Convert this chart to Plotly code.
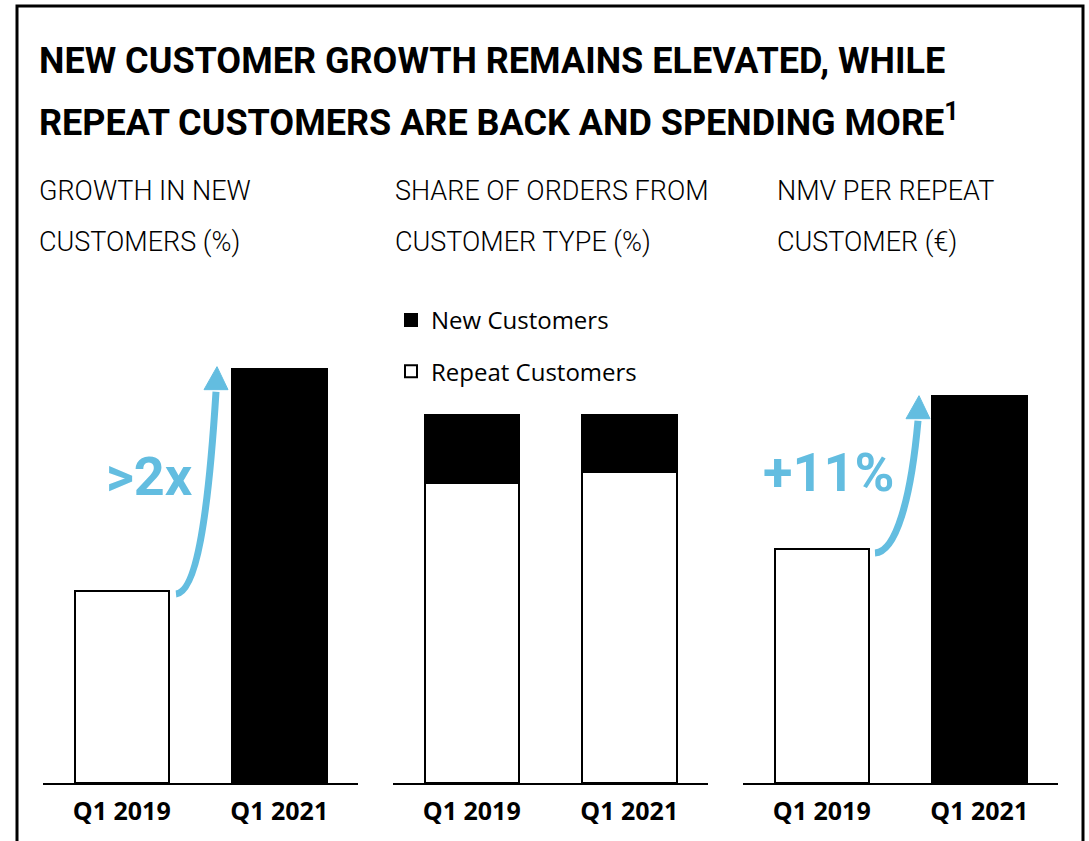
import plotly.graph_objects as go

# ---- data ----
quarters = ["Q1 2019", "Q1 2021"]
new_customer_growth = [19, 41]          # growth in new customers (%)
share_repeat = [81.5, 84.5]             # share of orders from repeat customers (%)
share_new = [18.5, 15.5]                # share of orders from new customers (%)
nmv_per_repeat = [100, 111]             # NMV per repeat customer (€)

title_lines = ["NEW CUSTOMER GROWTH REMAINS ELEVATED, WHILE",
               "REPEAT CUSTOMERS ARE BACK AND SPENDING MORE<sup>1</sup>"]
panel_titles = [["GROWTH IN NEW", "CUSTOMERS (%)"],
                ["SHARE OF ORDERS FROM", "CUSTOMER TYPE (%)"],
                ["NMV PER REPEAT", "CUSTOMER (€)"]]
callouts = [">2x", "+11%"]

# ---- layout constants ----
W, H = 1089, 841
BLUE = "#63BDE0"
COND = "Roboto, Liberation Sans, sans-serif"
GEO = "Open Sans, Lato, sans-serif"
panel_px = [(43, 358), (393, 708), (743, 1058)]
plot_top, plot_bottom = 333, 783
x_range = [-0.5, 1.5]
y_ranges = [[0, 44.53], [0, 122.3], [83.2, 115.5]]
bar_w = 0.6
xpos = list(range(len(quarters)))

fig = go.Figure()

# growth in new customers
fig.add_trace(go.Bar(x=xpos, y=new_customer_growth, width=bar_w,
                     marker=dict(color=["white", "black"], line=dict(color="black", width=2)),
                     showlegend=False, xaxis="x", yaxis="y", hoverinfo="x+y"))
# share of orders, stacked
fig.add_trace(go.Bar(x=xpos, y=share_repeat, width=bar_w, name="Repeat Customers",
                     legendgroup="repeat", legendrank=2,
                     marker=dict(color="white", line=dict(color="black", width=2)),
                     xaxis="x2", yaxis="y2"))
fig.add_trace(go.Bar(x=xpos, y=share_new, width=bar_w, name="New Customers",
                     legendgroup="new", legendrank=1,
                     marker=dict(color="black", line=dict(color="black", width=2)),
                     xaxis="x2", yaxis="y2"))
# NMV per repeat customer (value axis starts above zero)
nmv_base = y_ranges[2][0]
fig.add_trace(go.Bar(x=xpos, y=[v - nmv_base for v in nmv_per_repeat], base=nmv_base,
                     width=bar_w,
                     marker=dict(color=["white", "black"], line=dict(color="black", width=2)),
                     showlegend=False, xaxis="x3", yaxis="y3",
                     customdata=nmv_per_repeat, hovertemplate="%{customdata}<extra></extra>"))

ydom = [(H - plot_bottom) / H, (H - plot_top) / H]
axis_common = dict(range=x_range, tickvals=xpos, ticktext=quarters, showgrid=False,
                   zeroline=False, showline=True, linecolor="black", linewidth=2,
                   ticks="", ticklabelstandoff=5,
                   tickfont=dict(family=GEO, size=25, color="black", weight="bold"),
                   fixedrange=True)
yaxis_common = dict(visible=False, showgrid=False, zeroline=False, fixedrange=True)

for i, (l, r) in enumerate(panel_px):
    sfx = "" if i == 0 else str(i + 1)
    fig.layout["xaxis" + sfx] = dict(axis_common, domain=[l / W, r / W], anchor="y" + sfx)
    fig.layout["yaxis" + sfx] = dict(yaxis_common, domain=ydom, range=y_ranges[i],
                                     anchor="x" + sfx)


def to_px(i, x, y):
    l, r = panel_px[i]
    y0, y1 = y_ranges[i]
    px = l + (x - x_range[0]) / (x_range[1] - x_range[0]) * (r - l)
    py = plot_bottom - (y - y0) / (y1 - y0) * (plot_bottom - plot_top)
    return px, py


def to_data(i, px, py):
    l, r = panel_px[i]
    y0, y1 = y_ranges[i]
    x = x_range[0] + (px - l) / (r - l) * (x_range[1] - x_range[0])
    y = y0 + (plot_bottom - py) / (plot_bottom - plot_top) * (y1 - y0)
    return x, y


def growth_arrow(i, values, start_off, c1, c2, end_off, head_w=24, head_h=23):
    """Curved callout arrow from the first bar's top towards the second bar's top."""
    sx, sy = to_px(i, xpos[0] + bar_w / 2, values[0])
    ex, ey = to_px(i, xpos[1] - bar_w / 2, values[1])
    p0 = (sx + start_off[0], sy + start_off[1])
    tip = (ex + end_off[0], ey + end_off[1])
    base = (tip[0] - 1, tip[1] + head_h)
    p1 = (p0[0] + c1[0], p0[1] + c1[1])
    p2 = (base[0] + c2[0], base[1] + c2[1])

    def pt(p):
        x, y = to_data(i, *p)
        return f"{x:.5f},{y:.5f}"

    sfx = "" if i == 0 else str(i + 1)
    curve = f"M{pt(p0)} C{pt(p1)} {pt(p2)} {pt((base[0], base[1] + 2))}"
    fig.add_shape(type="path", path=curve, xref="x" + sfx, yref="y" + sfx,
                  line=dict(color=BLUE, width=7), layer="above")
    hl = (base[0] - head_w / 2, base[1])
    hr = (base[0] + head_w / 2, base[1])
    head = f"M{pt(hl)} L{pt(tip)} L{pt(hr)} Z"
    fig.add_shape(type="path", path=head, xref="x" + sfx, yref="y" + sfx,
                  fillcolor=BLUE, line=dict(color=BLUE, width=1), layer="above")


growth_arrow(0, new_customer_growth, (7, 3), (20, -2), (-8, 130), (-15, -2))
growth_arrow(2, nmv_per_repeat, (6, 4), (21, -1), (-7, 80), (-13, 0))

# callout labels
for text, (cx, cy) in zip(callouts, [(149, 476), (828, 472)]):
    fig.add_annotation(text=f"<b>{text}</b>", x=cx / W, y=1 - cy / H, xref="paper", yref="paper",
                       showarrow=False, xanchor="center", yanchor="middle",
                       font=dict(family=COND, size=54, color=BLUE))

# headline
for line, cy in zip(title_lines, [61, 120]):
    fig.add_annotation(text=f"<b>{line}</b>", x=37 / W, y=1 - cy / H, xref="paper", yref="paper",
                       showarrow=False, xanchor="left", yanchor="middle",
                       font=dict(family=COND, size=36, color="black"))

# panel headings
for lines, x0 in zip(panel_titles, [37, 393, 775]):
    for line, cy in zip(lines, [191, 242]):
        fig.add_annotation(text=line, x=x0 / W, y=1 - cy / H, xref="paper", yref="paper",
                           showarrow=False, xanchor="left", yanchor="middle",
                           font=dict(family=COND, size=27, color="black", weight=300))

# frame
fig.add_shape(type="rect", xref="paper", yref="paper",
              x0=17 / W, x1=1083 / W, y0=-0.05, y1=1 - 6 / H,
              line=dict(color="black", width=3), layer="above")

fig.update_layout(
    width=W, height=H, margin=dict(l=0, r=0, t=0, b=0),
    paper_bgcolor="white", plot_bgcolor="white",
    barmode="stack", bargap=0,
    showlegend=True,
    legend=dict(x=391 / W, y=1 - 298 / H, xanchor="left", yanchor="top",
                traceorder="grouped", tracegroupgap=17,
                font=dict(family=GEO, size=24, color="black"),
                bgcolor="rgba(0,0,0,0)"),
)

fig.write_html("out.html")
